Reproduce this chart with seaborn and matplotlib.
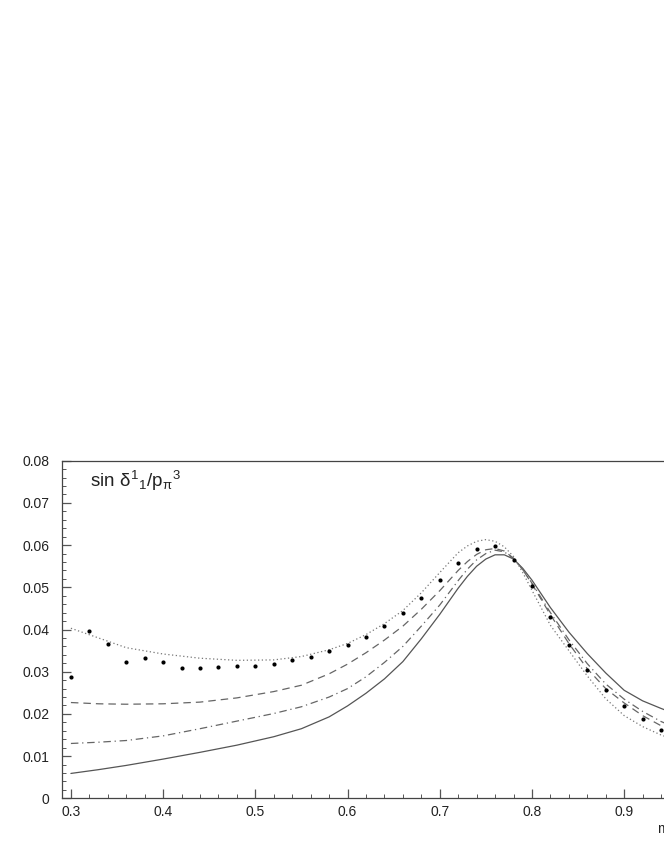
import pandas as pd
import matplotlib
matplotlib.use("Agg")
import matplotlib.pyplot as plt
import seaborn as sns
from matplotlib.ticker import FixedLocator, FixedFormatter, MultipleLocator

# ==============================
# DATOS
# ==============================

# curvas teoricas: sin(delta^1_1)/p_pi^3 frente a m_pipi
curve_x = [0.30, 0.33, 0.36, 0.40, 0.44, 0.48, 0.52, 0.55, 0.58, 0.60, 0.62,
           0.64, 0.66, 0.68, 0.70, 0.72, 0.73, 0.74, 0.75, 0.76, 0.77, 0.78,
           0.79, 0.80, 0.82, 0.84, 0.86, 0.88, 0.90, 0.92, 0.94, 0.97, 1.00]

solid_y = [0.0059, 0.0068, 0.0078, 0.0093, 0.0109, 0.0126, 0.0146, 0.0165, 0.0193,
           0.0219, 0.0249, 0.0283, 0.0324, 0.0378, 0.0436, 0.0498, 0.0526, 0.0550,
           0.0567, 0.0577, 0.0577, 0.0567, 0.0545, 0.0517, 0.0452, 0.0394, 0.0343,
           0.0297, 0.0256, 0.0231, 0.0213, 0.0188, 0.0167]

dashed_y = [0.0227, 0.0224, 0.0223, 0.0224, 0.0228, 0.0238, 0.0253, 0.0268, 0.0295,
            0.0318, 0.0345, 0.0375, 0.0408, 0.0448, 0.0492, 0.0540, 0.0561, 0.0578,
            0.0589, 0.0592, 0.0586, 0.0569, 0.0542, 0.0508, 0.0435, 0.0367, 0.0307,
            0.0260, 0.0226, 0.0196, 0.0172, 0.0145, 0.0126]

dashdot_y = [0.0130, 0.0133, 0.0137, 0.0148, 0.0165, 0.0183, 0.0201, 0.0217, 0.0240,
             0.0260, 0.0288, 0.0322, 0.0360, 0.0408, 0.0458, 0.0516, 0.0543, 0.0565,
             0.0580, 0.0588, 0.0584, 0.0568, 0.0542, 0.0510, 0.0440, 0.0376, 0.0319,
             0.0271, 0.0235, 0.0206, 0.0182, 0.0155, 0.0134]

dotted_y = [0.0403, 0.0380, 0.0357, 0.0342, 0.0332, 0.0327, 0.0328, 0.0336, 0.0352,
            0.0367, 0.0388, 0.0414, 0.0445, 0.0487, 0.0535, 0.0582, 0.0598, 0.0609,
            0.0613, 0.0609, 0.0596, 0.0573, 0.0535, 0.0493, 0.0410, 0.0350, 0.0290,
            0.0236, 0.0196, 0.0170, 0.0150, 0.0128, 0.0110]

# puntos (datos)
dots_x = [0.30, 0.32, 0.34, 0.36, 0.38, 0.40, 0.42, 0.44, 0.46, 0.48, 0.50,
          0.52, 0.54, 0.56, 0.58, 0.60, 0.62, 0.64, 0.66, 0.68, 0.70, 0.72,
          0.74, 0.76, 0.78, 0.80, 0.82, 0.84, 0.86, 0.88, 0.90, 0.92, 0.94]
dots_y = [0.0287, 0.0397, 0.0365, 0.0324, 0.0333, 0.0323, 0.0308, 0.0310, 0.0312,
          0.0314, 0.0314, 0.0319, 0.0327, 0.0335, 0.0348, 0.0363, 0.0382, 0.0408,
          0.0438, 0.0475, 0.0517, 0.0558, 0.0591, 0.0597, 0.0565, 0.0504, 0.0430,
          0.0363, 0.0305, 0.0257, 0.0219, 0.0188, 0.0163]

x_ticks = [0.3, 0.4, 0.5, 0.6, 0.7, 0.8, 0.9]
x_labels = ["0.3", "0.4", "0.5", "0.6", "0.7", "0.8", "0.9"]
y_ticks = [0.0, 0.01, 0.02, 0.03, 0.04, 0.05, 0.06, 0.07, 0.08]
y_labels = ["0", "0.01", "0.02", "0.03", "0.04", "0.05", "0.06", "0.07", "0.08"]

title_text = r"sin $\delta^{1}{}_{1}/\mathrm{p}_{\pi}{}^{3}$"
xlabel_text = r"$\mathrm{m}_{\pi\pi}$ (GeV)"

# ==============================
# ESTILO
# ==============================

sns.set_style("ticks")
plt.rcParams["font.family"] = ["Liberation Sans", "DejaVu Sans"]
plt.rcParams["mathtext.fontset"] = "custom"
plt.rcParams["mathtext.rm"] = "Liberation Sans"
plt.rcParams["mathtext.it"] = "Liberation Sans"
plt.rcParams["mathtext.bf"] = "Liberation Sans:bold"

# ==============================
# FIGURA
# ==============================

fig = plt.figure(figsize=(6.64, 8.60), dpi=100)
# el eje se sale por la derecha, como en la imagen original recortada
ax = fig.add_axes([0.0929, 0.0717, 0.986, 0.3926])

curvas = [
    (solid_y, "-", "#555555", 0.9),
    (dashed_y, (0, (6, 4)), "#666666", 0.9),
    (dashdot_y, (0, (6, 3, 1, 3)), "#666666", 0.9),
    (dotted_y, (0, (1, 2)), "#777777", 0.9),
]
for ys, ls, col, lw in curvas:
    df = pd.DataFrame({"m": curve_x, "valor": ys})
    sns.lineplot(data=df, x="m", y="valor", ax=ax, color=col,
                 linewidth=lw, linestyle=ls, legend=False)

df_dots = pd.DataFrame({"m": dots_x, "valor": dots_y})
sns.scatterplot(data=df_dots, x="m", y="valor", ax=ax, color="black",
                s=9, linewidth=0, legend=False, zorder=5)

ax.set_xlim(0.29, 1.0)
ax.set_ylim(0, 0.08)
ax.set_xlabel("")
ax.set_ylabel("")

ax.xaxis.set_major_locator(FixedLocator(x_ticks))
ax.xaxis.set_major_formatter(FixedFormatter(x_labels))
ax.xaxis.set_minor_locator(MultipleLocator(0.02))
ax.yaxis.set_major_locator(FixedLocator(y_ticks))
ax.yaxis.set_major_formatter(FixedFormatter(y_labels))
ax.yaxis.set_minor_locator(MultipleLocator(0.002))

ax.tick_params(which="both", direction="in", colors="#555555",
               labelcolor="#222222", labelsize=10)
ax.tick_params(which="major", length=6.5, width=0.9)
ax.tick_params(which="minor", length=3.2, width=0.7)
ax.tick_params(axis="x", which="major", pad=5)
ax.tick_params(axis="y", which="major", pad=9)

for side in ["left", "bottom", "top", "right"]:
    ax.spines[side].set_color("#444444")
    ax.spines[side].set_linewidth(0.9)

ax.text(0.043, 0.922, title_text, transform=ax.transAxes, fontsize=13.5,
        ha="left", va="baseline", color="#222222")

fig.text(657 / 664, (860 - 832.7) / 860, xlabel_text, fontsize=10,
         ha="left", va="baseline", color="#222222")

fig.savefig("out.png", dpi=100)
